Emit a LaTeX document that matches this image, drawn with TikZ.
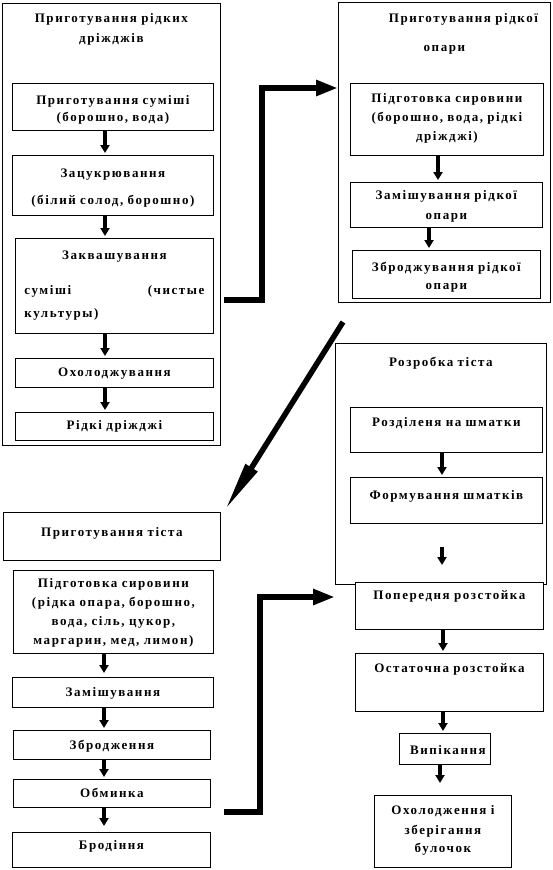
\documentclass[tikz,border=0pt]{standalone}
\usepackage{fontspec}
\newfontfamily\diagfont{Liberation Serif}[LetterSpace=12]
\usetikzlibrary{arrows.meta}

\begin{document}
\begin{tikzpicture}[x=1pt,y=-1pt,
    box/.style={draw, fill=white, line width=0.8pt, inner xsep=2pt, inner ysep=0pt,
      anchor=north west, align=center, font=\diagfont\bfseries\fontsize{13}{19}\selectfont},
    flow/.style={line width=4pt, -{Triangle[length=8pt,width=9pt]}, shorten >=2pt},
    link/.style={line width=6.5pt, line join=miter, -{Triangle[length=22pt,width=15pt]}},
    slant/.style={line width=5.5pt, -{Triangle[length=50pt,width=13pt]}}]
    \useasboundingbox (0,0) rectangle (553,870);
    % left top: liquid yeast
    \node[box, text width=214pt, text height=19pt, text depth=423pt] (A0) at (2,3) {Приготування рідких\\[1pt]дріжджів};
    \node[box, text width=197pt, text height=21pt, text depth=26pt] (A1) at (12,83) {Приготування суміші\\[-2pt](борошно, вода)};
    \node[box, text width=197pt, text height=22pt, text depth=38pt] (A2) at (12,155) {Зацукрювання\\[8pt](білий солод, борошно)};
    \node[box, align=left, inner xsep=9pt, text width=180pt, text height=21pt, text depth=74pt] (A3) at (15,238)
      {\hfill Заквашування\hfill\mbox{}\\[16pt]суміші\hfill(чистые\\[4pt]культуры)};
    \node[box, text width=194pt, text height=18pt, text depth=11pt] (A4) at (15,358) {Охолоджування};
    \node[box, text width=194pt, text height=17pt, text depth=11pt] (A5) at (15,412) {Рідкі дріжджі};
    \foreach \a/\b in {A1/A2,A2/A3,A3/A4,A4/A5} \draw[flow] (\a.south -| 105,0) -- (\b.north -| 105,0);
    % right top: liquid sponge
    \node[box, text width=208pt, text height=20pt, text depth=280pt] (B0) at (338,2) {\hspace*{38pt}Приготування рідкої\\[10pt]опари};
    \node[box, text width=189pt, text height=19pt, text depth=53pt] (B1) at (350,83) {Підготовка сировини\\(борошно, вода, рідкі\\дріжджі)};
    \node[box, text width=188pt, text height=17pt, text depth=28pt] (B2) at (350,182) {Замішування рідкої\\[1pt]опари};
    \node[box, text width=184pt, text height=21pt, text depth=27pt] (B3) at (352,250) {Зброджування рідкої\\[-1pt]опари};
    \draw[flow] (B1.south -| 438,0) -- (B2.north -| 438,0);
    \draw[flow] (B2.south -| 429,0) -- (B3.north -| 429,0);
    % right middle: dough make-up
    \node[box, text width=207pt, text height=23pt, text depth=218pt] (C0) at (335,343) {Розробка тіста\hspace*{11pt}};
    \node[box, text width=188pt, text height=19pt, text depth=26pt] (C1) at (350,407) {Розділеня на шматки};
    \node[box, text width=188pt, text height=22pt, text depth=24pt] (C2) at (350,477) {Формування шматків};
    \node[box, text width=184pt, text height=17pt, text depth=30pt] (C3) at (355,582) {Попередня розстойка};
    \node[box, text width=184pt, text height=19pt, text depth=39pt] (C4) at (355,653) {Остаточна розстойка};
    \node[box, text width=87pt, text height=21pt, text depth=10pt] (C5) at (399,733) {\hspace*{6pt}Випікання};
    \node[box, text width=133pt, text height=19pt, text depth=53pt] (C6) at (374,795) {Охолодження і\\[1pt]зберігання\\[-1pt]булочок};
    \coordinate (c2out) at (442,547);
    \coordinate (c3in) at (442,565);
    \draw[flow, shorten >=0pt] (c2out) -- (c3in);
    \draw[flow] (C1.south -| 442,0) -- (C2.north -| 442,0);
    \draw[flow] (C3.south -| 443,0) -- (C4.north -| 443,0);
    \draw[flow] (C4.south -| 443,0) -- (C5.north -| 443,0);
    \draw[flow, shorten >=12pt] (C5.south -| 440,0) -- (C6.north -| 440,0);
    % left bottom: dough
    \node[box, text width=213pt, text height=24pt, text depth=24pt] (D0) at (3,512) {Приготування тіста};
    \node[box, text width=196pt, text height=17pt, text depth=66pt] (D1) at (13,570) {Підготовка сировини\\(рідка опара, борошно,\\вода, сіль, цукор,\\маргарин, мед, лимон)};
    \node[box, text width=197pt, text height=19pt, text depth=11pt] (D2) at (12,677) {Замішування};
    \node[box, text width=193pt, text height=19pt, text depth=10pt] (D3) at (13,730) {Збродження\hspace*{16pt}};
    \node[box, text width=193pt, text height=18pt, text depth=10pt] (D4) at (13,779) {Обминка\hspace*{31pt}};
    \node[box, text width=194pt, text height=17pt, text depth=18pt] (D5) at (12,832) {Бродіння\hspace*{37pt}};
    \draw[flow, shorten >=4pt] (D1.south -| 104,0) -- (D2.north -| 104,0);
    \foreach \a/\b in {D2/D3,D3/D4} \draw[flow] (\a.south -| 104,0) -- (\b.north -| 104,0);
    \draw[flow, shorten >=6pt] (D4.south -| 104,0) -- (D5.north -| 104,0);
    % thick connectors between stages
    \draw[link, shorten <=3pt] (A0.east |- 0,300) -| (262,88) -- (B0.west |- 0,88);
    \coordinate (bout) at (343,322);
    \coordinate (din) at (225,510);
    \draw[slant] (bout) -- (din);
    \draw[link, shorten <=13pt] (D4.east |- 0,812) -| (260,597) -- (C0.west |- 0,597);
\end{tikzpicture}
\end{document}
